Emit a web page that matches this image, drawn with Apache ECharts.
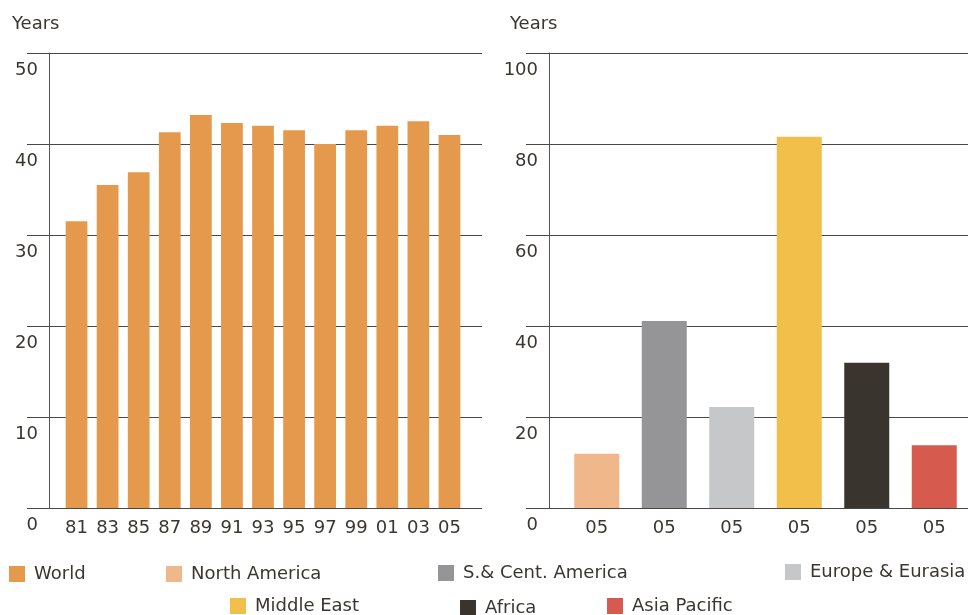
<!DOCTYPE html>
<html>
<head>
<meta charset="utf-8">
<script src="https://cdn.jsdelivr.net/npm/echarts@6/dist/echarts.min.js"></script>
<style>
  html, body { margin: 0; padding: 0; background: #fff; }
  #main { width: 968px; height: 615px; }
</style>
</head>
<body>
<div id="main"></div>
<script>
// world reserves-to-production, by year
var worldYears = ['81', '83', '85', '87', '89', '91', '93', '95', '97', '99', '01', '03', '05'];
var worldValues = [31.5, 35.5, 36.9, 41.3, 43.2, 42.3, 42.0, 41.5, 40.0, 41.5, 42.0, 42.5, 41.0];

// regions, 2005
var regionNames = ['North America', 'S.& Cent. America', 'Europe & Eurasia', 'Middle East', 'Africa', 'Asia Pacific'];
var regionLabels = ['05', '05', '05', '05', '05', '05'];
var regionValues = [11.9, 41.1, 22.2, 81.6, 31.9, 13.8];
var regionColors = ['#efb78a', '#959597', '#c6c7c9', '#f2bf4b', '#3a342e', '#d65b4e'];
var worldColor = '#e5994d';

var txt = '#3a3631';
var lineCol = '#4a4744';
var font = 'DejaVu Sans';
var fs = 18;

var chart = echarts.init(document.getElementById('main'));

function yAxisVisible(grid, max, tick) {
    return {
        type: 'value', gridIndex: grid, min: 0, max: max, interval: max / 5,
        axisLine: { show: true, lineStyle: { color: '#555', width: 1 } },
        axisTick: { show: true, length: tick, lineStyle: { color: lineCol } },
        splitLine: { show: true, lineStyle: { color: lineCol, width: 1 } },
        axisLabel: {
            margin: 11, color: txt, fontSize: fs, fontFamily: font,
            verticalAlign: 'top', padding: [8, 0, 0, 0]
        }
    };
}
function yAxisHidden(grid, max) {
    return { type: 'value', gridIndex: grid, min: 0, max: max, show: false };
}

var series = [{
    name: 'World', type: 'bar', xAxisIndex: 1, yAxisIndex: 1,
    barWidth: '70%', data: worldValues,
    itemStyle: { color: worldColor }
}];
regionNames.forEach(function (n, i) {
    var d = regionNames.map(function (x, j) { return j === i ? regionValues[i] : '-'; });
    series.push({
        name: n, type: 'bar', stack: 'r', xAxisIndex: 3, yAxisIndex: 3,
        barWidth: 45, data: d, itemStyle: { color: regionColors[i] }
    });
});

// legend spots, one legend per item
var legendSpots = [
    ['World', 9, 565], ['North America', 166, 565], ['S.& Cent. America', 438, 564],
    ['Europe & Eurasia', 785, 563], ['Middle East', 230, 597], ['Africa', 460, 599],
    ['Asia Pacific', 607, 597]
];
var legends = legendSpots.map(function (s) {
    return {
        data: [s[0]], left: s[1], top: s[2], padding: 0,
        icon: 'rect', itemWidth: 16, itemHeight: 16, itemGap: 0,
        textStyle: { color: txt, fontSize: fs, fontFamily: font, padding: [0, 0, 0, 4] },
        selectedMode: false
    };
});

var option = {
    animation: false,
    textStyle: { fontFamily: font },
    title: [
        { text: 'Years', left: 12, top: 15, padding: 0,
          textStyle: { color: txt, fontSize: fs, fontWeight: 'normal', fontFamily: font } },
        { text: 'Years', left: 510, top: 15, padding: 0,
          textStyle: { color: txt, fontSize: fs, fontWeight: 'normal', fontFamily: font } }
    ],
    legend: legends,
    grid: [
        { left: 49, right: 486, top: 53, bottom: 107 },
        { left: 61, right: 503, top: 53, bottom: 107 },
        { left: 549, right: -30, top: 53, bottom: 107 },
        { left: 563, right: -1, top: 53, bottom: 107 }
    ],
    xAxis: [
        { type: 'category', gridIndex: 0, show: false, data: worldYears },
        { type: 'category', gridIndex: 1, data: worldYears,
          axisLine: { show: false }, axisTick: { show: false },
          axisLabel: { margin: 11, color: txt, fontSize: fs, fontFamily: font } },
        { type: 'category', gridIndex: 2, show: false, data: regionNames },
        { type: 'category', gridIndex: 3, data: regionNames,
          axisLine: { show: false }, axisTick: { show: false },
          axisLabel: { margin: 11, color: txt, fontSize: fs, fontFamily: font,
                       formatter: function (v, i) { return regionLabels[i]; } } }
    ],
    yAxis: [
        yAxisVisible(0, 50, 22),
        yAxisHidden(1, 50),
        yAxisVisible(2, 100, 23),
        yAxisHidden(3, 100)
    ],
    series: series
};

chart.setOption(option);
</script>
</body>
</html>
